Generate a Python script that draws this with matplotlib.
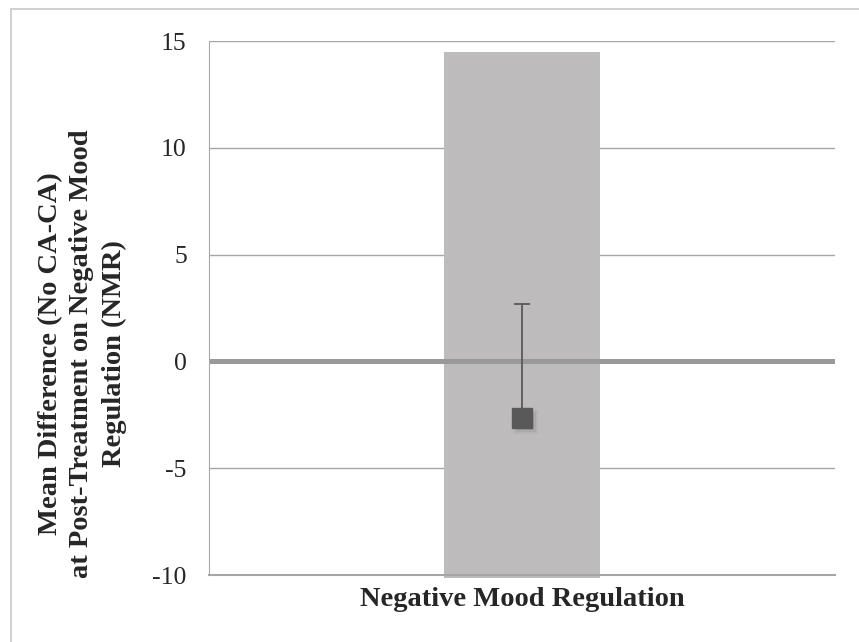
import matplotlib
matplotlib.use('Agg')
import matplotlib.pyplot as plt
import matplotlib.transforms as mtransforms
from matplotlib.patches import Rectangle

# data
categories = ['Negative Mood Regulation']
bar_top = [14.5]
bar_base = -10.15
mean_diff = [-2.65]
err_upper = [5.35]
yticks = [-10, -5, 0, 5, 10, 15]
ylabel_lines = ['Mean Difference (No CA-CA)',
                'at Post-Treatment on Negative Mood',
                'Regulation (NMR)']

plt.rcParams['font.family'] = ['Liberation Serif', 'DejaVu Serif']
plt.rcParams['axes.unicode_minus'] = False

W, H = 859, 642
fig = plt.figure(figsize=(W / 100, H / 100), dpi=100)
ax = fig.add_axes([209 / W, 1 - 575 / H, (835 - 209) / W, (575 - 41) / H])

# outer frame of the exported chart (only left/top visible)
fig.patches.append(Rectangle((11 / W, -0.1), 1.2, 1 - 9 / H + 0.1,
                             transform=fig.transFigure, fill=False,
                             edgecolor='#c8c8c8', lw=1.2))

x = list(range(len(categories)))
for yv in yticks:
    ax.axhline(yv, color='#a6a6a6', lw=1.0, zorder=0)

ax.bar(x, [t - bar_base for t in bar_top], bottom=bar_base, width=0.25,
       color='#bdbbbc', zorder=1, clip_on=False)
ax.axhline(0, color='#999999', lw=3.6, zorder=2)

# upper error bar only
tops = [m + e for m, e in zip(mean_diff, err_upper)]
ax.vlines(x, mean_diff, tops, color='#595959', lw=1.3, zorder=3)
ax.plot(x, tops, '_', ms=11, mew=1.3, color='#595959', zorder=3)

# soft shadow under the marker
for dx, ms, a in [(3, 17, 0.12), (3, 15, 0.18), (2.5, 13, 0.25)]:
    tr = mtransforms.offset_copy(ax.transData, fig=fig, x=dx, y=-dx, units='points')
    ax.plot(x, mean_diff, 's', ms=ms, color='#808080', alpha=a,
            mew=0, zorder=4, transform=tr)
ax.plot(x, mean_diff, 's', ms=14, color='#595959', zorder=5)

ax.set_xlim(-0.5, 0.5)
ax.set_ylim(-10, 15)
ax.set_yticks(yticks)
ax.set_xticks(x)
ax.set_xticklabels(categories, fontsize=20.5, fontweight='bold', color='#262626')
ax.tick_params(axis='x', length=0, pad=9)
ax.tick_params(axis='y', length=0, pad=16, labelsize=18.5, labelcolor='#262626')

for s in ['top', 'right']:
    ax.spines[s].set_visible(False)
ax.spines['left'].set_color('#a6a6a6')
ax.spines['bottom'].set_color('#a6a6a6')
ax.spines['bottom'].set_linewidth(1.5)

# y label, three centred lines placed as in the original
for txt, cx in zip(ylabel_lines, [51, 82, 114]):
    fig.text(cx / W, 1 - 354 / H, txt, rotation=90, ha='center', va='center',
             fontsize=20.5, fontweight='bold', color='#262626')

fig.savefig('out.png', dpi=100)
